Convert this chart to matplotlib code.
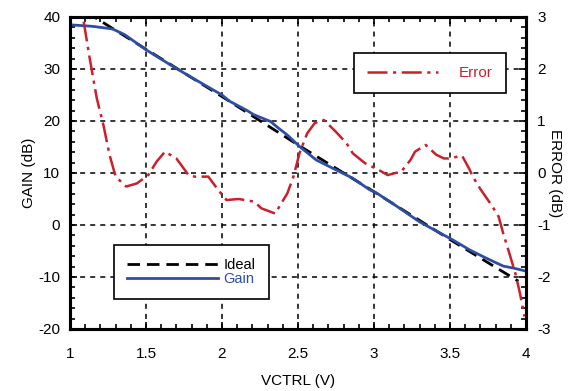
import matplotlib.pyplot as plt
from matplotlib.ticker import MultipleLocator

plt.rcParams['font.family'] = ['Liberation Sans', 'DejaVu Sans']
plt.rcParams['axes.unicode_minus'] = False

# data
gain_v = [1.0, 1.15, 1.28, 1.36, 1.5, 1.66, 1.81, 2.0, 2.05, 2.16, 2.21, 2.32, 2.36,
          2.43, 2.51, 2.62, 2.75, 2.86, 2.97, 3.02, 3.15, 3.3, 3.52, 3.63, 3.74,
          3.85, 3.92, 3.99]
gain_db = [38.5, 38.2, 37.7, 36.6, 33.7, 30.8, 28.2, 25.0, 23.8, 22.1, 21.2, 19.9, 18.9,
           17.3, 15.1, 12.5, 10.6, 9.0, 6.8, 6.1, 3.6, 0.6, -2.9, -4.8, -6.4,
           -7.9, -8.3, -8.8]

ideal_v = [1.0, 1.5, 2.0, 2.5, 3.0, 3.5, 3.95]
ideal_db = [42.9, 33.8, 24.7, 15.4, 6.4, -2.8, -10.8]

err_v = [1.09, 1.13, 1.176, 1.22, 1.26, 1.30, 1.37, 1.44, 1.515, 1.57, 1.625, 1.70,
         1.78, 1.82, 1.91, 1.976, 2.03, 2.11, 2.21, 2.26, 2.35, 2.43, 2.47, 2.51,
         2.56, 2.61, 2.67, 2.75, 2.82, 2.86, 2.94, 3.03, 3.09, 3.18, 3.24, 3.27,
         3.34, 3.41, 3.46, 3.49, 3.58, 3.63, 3.65, 3.70, 3.75, 3.78, 3.82, 3.85,
         3.89, 3.93, 3.96, 3.99]
err_db = [2.91, 2.2, 1.44, 0.92, 0.35, -0.07, -0.26, -0.2, -0.04, 0.22, 0.41, 0.28,
          -0.04, -0.07, -0.07, -0.33, -0.52, -0.5, -0.55, -0.68, -0.78, -0.39, -0.07, 0.38,
          0.76, 0.96, 1.02, 0.79, 0.57, 0.38, 0.19, 0.06, -0.04, 0.03, 0.25, 0.41,
          0.54, 0.35, 0.28, 0.28, 0.33, 0.06, -0.07, -0.31, -0.52, -0.65, -0.84, -1.16,
          -1.54, -1.93, -2.31, -2.76]

blue = '#2d4ea3'
red = '#c9202c'

fig = plt.figure(figsize=(5.78, 3.91), dpi=100)
ax = fig.add_axes([70 / 578, 62 / 391, 456 / 578, 312 / 391])
ax2 = ax.twinx()

ln_ideal, = ax.plot(ideal_v, ideal_db, color='black', lw=2.0, ls=(0, (4.5, 2.5)),
                    label='Ideal', zorder=3)
ln_gain, = ax.plot(gain_v, gain_db, color=blue, lw=2.0, label='Gain', zorder=4)
ln_err, = ax2.plot(err_v, err_db, color=red, lw=1.8, ls=(0, (8, 2.2, 1.3, 2.2)),
                   label='Error')

ax.set_xlim(1, 4)
ax.set_ylim(-20, 40)
ax2.set_ylim(-3, 3)

ax.xaxis.set_major_locator(MultipleLocator(0.5))
ax.xaxis.set_minor_locator(MultipleLocator(0.1))
ax.yaxis.set_major_locator(MultipleLocator(10))
ax.yaxis.set_minor_locator(MultipleLocator(2))
ax2.yaxis.set_major_locator(MultipleLocator(1))
ax2.yaxis.set_minor_locator(MultipleLocator(0.2))

ax.grid(True, which='major', color='black', lw=1.1, ls=(0, (3.3, 3.3)))

ax.set_xticks([1, 1.5, 2, 2.5, 3, 3.5, 4])
ax.set_xticklabels(['1', '1.5', '2', '2.5', '3', '3.5', '4'])

ax.tick_params(which='both', direction='in', top=True, right=False, labelsize=11)
ax.tick_params(which='major', length=5, width=1.2)
ax.tick_params(which='minor', length=3.5, width=1.2)
ax.tick_params(axis='x', pad=13)
ax.tick_params(axis='y', pad=7)
ax2.tick_params(which='both', direction='in', labelsize=11)
ax2.tick_params(which='major', length=5, width=1.2, pad=8)
ax2.tick_params(which='minor', length=3.5, width=1.2)

for a in (ax, ax2):
    for s in a.spines.values():
        s.set_linewidth(2.2)

ax.set_xlabel('VCTRL (V)', fontsize=11, labelpad=9)
ax.set_ylabel('GAIN (dB)', fontsize=11, labelpad=2)
ax2.set_ylabel('ERROR (dB)', fontsize=11, rotation=270, labelpad=8)

leg1 = ax.legend(handles=[ln_ideal, ln_gain], loc='lower left',
                 bbox_to_anchor=(0.097, 0.096), fontsize=10.5, frameon=True,
                 fancybox=False, edgecolor='black', framealpha=1,
                 handlelength=6.2, handletextpad=0.4, borderpad=0.9,
                 labelspacing=0.0, borderaxespad=0)
leg1.get_frame().set_linewidth(1.2)
leg1.get_texts()[1].set_color(blue)

leg2 = ax2.legend(handles=[ln_err], loc='upper right',
                  bbox_to_anchor=(0.956, 0.884), fontsize=11, frameon=True,
                  fancybox=False, edgecolor='black', framealpha=1,
                  handlelength=4.6, handletextpad=1.4, borderpad=0.85,
                  borderaxespad=0)
leg2.get_frame().set_linewidth(1.2)
leg2.get_texts()[0].set_color(red)

plt.savefig('out.png', dpi=100)
